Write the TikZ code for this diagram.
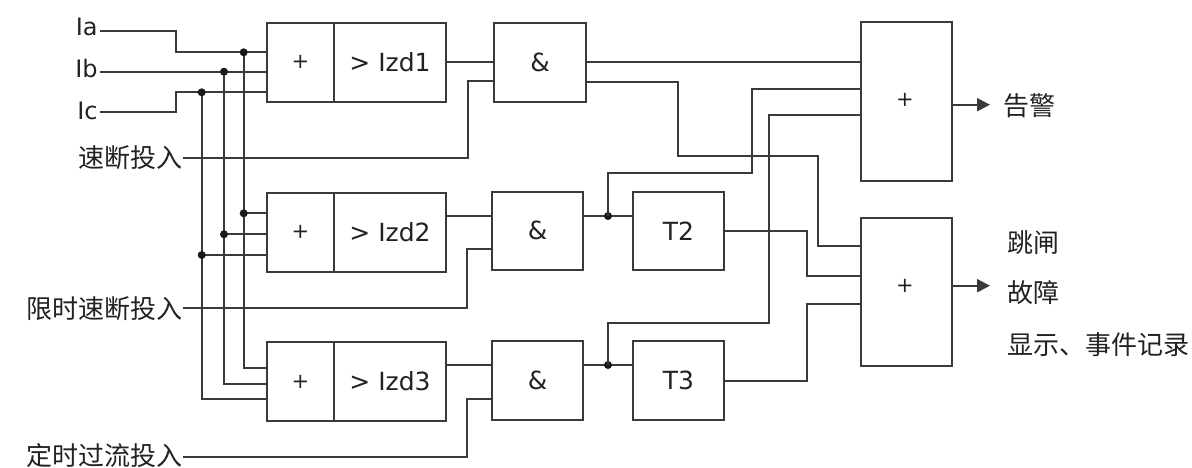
\documentclass[tikz,border=0pt]{standalone}
\usepackage{fontspec}
\setmainfont{DejaVu Sans}
\newfontfamily\cjkf{Noto Sans CJK SC}
\usetikzlibrary{arrows.meta}
\definecolor{ln}{HTML}{3A3A3A}
\definecolor{tx}{HTML}{222222}
\begin{document}
\begin{tikzpicture}[x=0.5pt,y=-0.5pt,
  wire/.style={draw=ln,line width=1pt},
  blk/.style={draw=ln,line width=1pt,inner sep=0pt,text=tx,font=\fontsize{12.5}{15}\selectfont},
  pls/.style={font=\fontsize{10.5}{12}\selectfont},
  lbl/.style={inner sep=0pt,text=tx,font=\fontsize{12}{14}\selectfont},
  cn/.style={inner sep=0pt,text=tx,font=\cjkf\fontsize{13}{15}\selectfont},
  outarrow/.style={wire,-{Triangle[length=6.5pt,width=6.5pt]}}]
\useasboundingbox (0,0) rectangle (1192,467);
% ---------- labels ----------
\node[lbl,anchor=base east] (la) at (98,35) {Ia};
\node[lbl,anchor=base east] (lb) at (98,77) {Ib};
\node[lbl,anchor=base east] (lc) at (98,119) {Ic};
\node[cn,anchor=east] (s1) at (183,158) {速断投入};
\node[cn,anchor=east] (s2) at (183,308.3) {限时速断投入};
\node[cn,anchor=east] (s3) at (183,455.5) {定时过流投入};
% ---------- blocks ----------
\node[blk,pls,minimum width=33.5pt,minimum height=39.5pt] (p1) at (300.5,62.2) {+};
\node[blk,minimum width=56pt,minimum height=39.5pt] (z1) at (390,62.2) {>\hspace{4pt}Izd1};
\node[blk,pls,minimum width=33.5pt,minimum height=39.5pt] (p2) at (300.5,232.2) {+};
\node[blk,minimum width=56pt,minimum height=39.5pt] (z2) at (390,232.2) {>\hspace{4pt}Izd2};
\node[blk,pls,minimum width=33.5pt,minimum height=39.2pt] (p3) at (300.5,381.5) {+};
\node[blk,minimum width=56pt,minimum height=39.2pt] (z3) at (390,381.5) {>\hspace{4pt}Izd3};
\node[blk,minimum width=45.7pt,minimum height=39.5pt] (a1) at (540,62.2) {\&};
\node[blk,minimum width=45.8pt,minimum height=39.2pt] (a2) at (537.5,230.8) {\&};
\node[blk,minimum width=45.8pt,minimum height=39.6pt] (a3) at (537.5,380.3) {\&};
\node[blk,minimum width=45.8pt,minimum height=39.2pt] (t2) at (678.5,230.8) {T2};
\node[blk,minimum width=45.8pt,minimum height=39.6pt] (t3) at (678.5,380.3) {T3};
\node[blk,minimum width=45.65pt,minimum height=79.5pt] (o1) at (906.7,101.9) {};
\node[blk,minimum width=45.65pt,minimum height=74pt] (o2) at (906.7,291.7) {};
\node[blk,pls,draw=none] (o1t) at (905,100) {+};
\node[blk,pls,draw=none] (o2t) at (905,285.7) {+};
% ---------- outputs ----------
\node[cn,anchor=west] (alarm) at (1003,106) {告警};
\node[cn,anchor=west] (trip) at (1007,243) {跳闸};
\node[cn,anchor=west] (fault) at (1007,293) {故障};
\node[cn,anchor=west] (rec) at (1007,345) {显示、事件记录};
% ---------- junction coordinates ----------
\coordinate (ia) at (100,31);
\coordinate (ib) at (100,71.7);
\coordinate (ic) at (100,111.7);
\coordinate (ja1) at (243.7,52.3);
\coordinate (jb1) at (224,71.7);
\coordinate (jc1) at (201.7,92.3);
\coordinate (ja2) at (243.7,213.3);
\coordinate (jb2) at (224,234.3);
\coordinate (jc2) at (201.7,255);
\coordinate (d2) at (608,216);
\coordinate (d3) at (608,365);
% ---------- input wires ----------
\draw[wire] (ia) -- (176,31) -- (176,52.3) -- (p1.west |- ja1);
\draw[wire] (ib) -- (p1.west |- jb1);
\draw[wire] (ic) -- (176,111.7) -- (176,92.3) -- (p1.west |- jc1);
\draw[wire] (ja1) -- (243.7,368.3) -- (p3.west |- 0,368.3);
\draw[wire] (jb1) -- (224,384) -- (p3.west |- 0,384);
\draw[wire] (jc1) -- (201.7,399) -- (p3.west |- 0,399);
\draw[wire] (ja2) -- (p2.west |- ja2);
\draw[wire] (jb2) -- (p2.west |- jb2);
\draw[wire] (jc2) -- (p2.west |- jc2);
\foreach \j in {ja1,jb1,jc1,ja2,jb2,jc2} \fill[black!90] (\j) circle (2pt);
% enable inputs
\draw[wire] (s1.east |- 0,157.5) -- (467.7,157.5) -- (467.7,81) -- (a1.west |- 0,81);
\draw[wire] (s2.east |- 0,308.3) -- (467.3,308.3) -- (467.3,249) -- (a2.west |- 0,249);
\draw[wire] (s3.east |- 0,457.3) -- (467.3,457.3) -- (467.3,399) -- (a3.west |- 0,399);
% comparator -> AND
\draw[wire] (z1.east |- 0,62.2) -- (a1.west |- 0,62.2);
\draw[wire] (z2.east |- d2) -- (a2.west |- d2);
\draw[wire] (z3.east |- d3) -- (a3.west |- d3);
% AND -> timers
\draw[wire] (a2.east |- d2) -- (t2.west |- d2);
\draw[wire] (a3.east |- d3) -- (t3.west |- d3);
\fill[black!90] (d2) circle (2pt);
\fill[black!90] (d3) circle (2pt);
% to OR1 (alarm)
\draw[wire] (a1.east |- 0,62.2) -- (o1.west |- 0,62.2);
\draw[wire] (d2) -- (608,173.3) -- (752.3,173.3) -- (752.3,89) -- (o1.west |- 0,89);
\draw[wire] (d3) -- (608,323) -- (769,323) -- (769,115) -- (o1.west |- 0,115);
% to OR2 (trip)
\draw[wire] (a1.east |- 0,81.5) -- (677.5,81.5) -- (677.5,156) -- (818.3,156) -- (818.3,245.5) -- (o2.west |- 0,245.5);
\draw[wire] (t2.east |- 0,230.5) -- (807.3,230.5) -- (807.3,275.7) -- (o2.west |- 0,275.7);
\draw[wire] (t3.east |- 0,381) -- (807.3,381) -- (807.3,304.3) -- (o2.west |- 0,304.3);
% outputs
\draw[outarrow] (o1.east |- 0,104.7) -- (990,104.7);
\draw[outarrow] (o2.east |- 0,285.7) -- (990,285.7);
\end{tikzpicture}
\end{document}
